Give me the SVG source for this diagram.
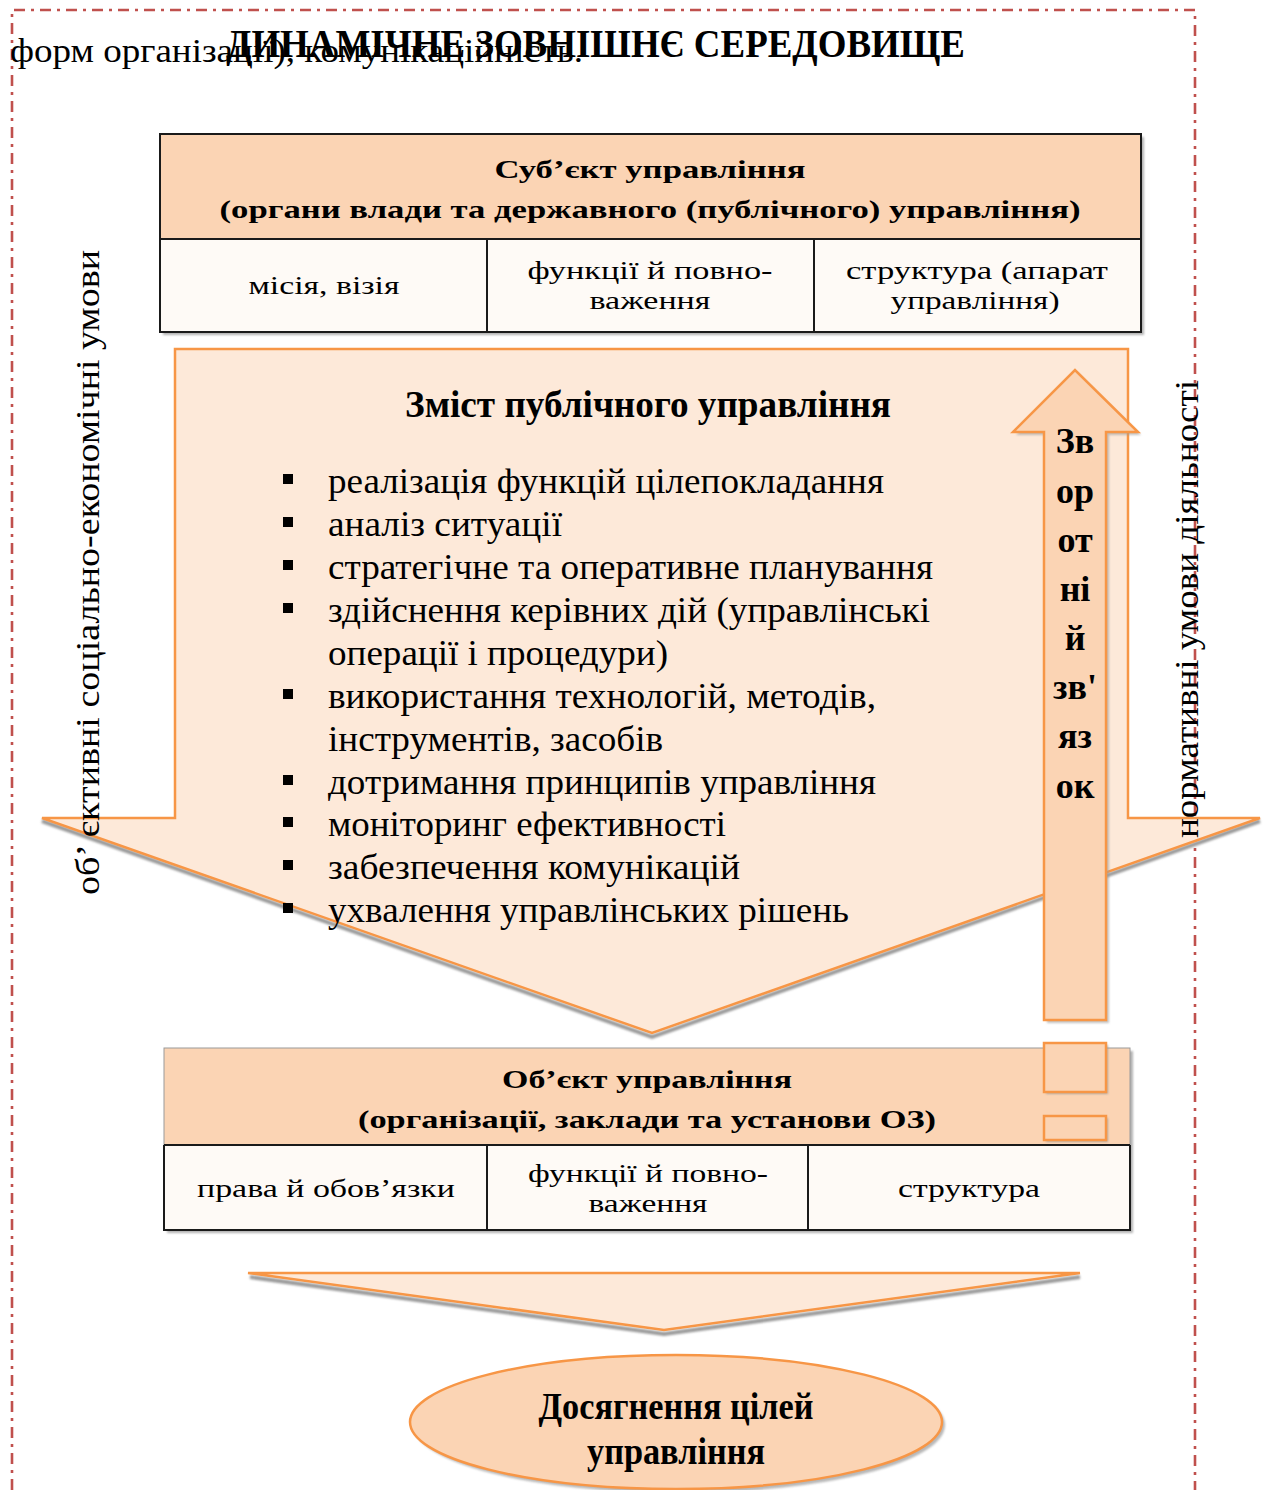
<svg xmlns="http://www.w3.org/2000/svg" width="1267" height="1490" viewBox="0 0 1267 1490">
<style>
text{font-family:"Liberation Serif","DejaVu Serif",serif;fill:#000}
.b{font-weight:bold}
.m{text-anchor:middle}
.hd{font-size:25px;font-weight:bold;text-anchor:middle}
.cl{font-size:25px;text-anchor:middle}
.li{font-size:35px}
.fb{font-size:36px;font-weight:bold;text-anchor:middle}
.vt{font-size:34px}
.border{fill:none;stroke:#c0504d;stroke-width:2.6;stroke-dasharray:11 6 3 6}
.peach{fill:#fbd4b4}
.cellbg{fill:#fefaf6}
.frame{fill:none;stroke:#1a1a1a;stroke-width:2}
.orange{stroke:#f79646;stroke-width:2.5}
.light{fill:#fde9d9}
.shadow{fill:#9a9a9a;opacity:0.75}
</style>
<defs>
<filter id="sh" x="-5%" y="-5%" width="110%" height="115%">
<feGaussianBlur stdDeviation="1"/>
</filter>
</defs>
<rect width="1267" height="1490" fill="#fff"/>
<path class="border" d="M12 1490 V10 H1195 V1490"/>

<g id="intro">
<text x="10" y="62" style="font-size:33px" textLength="573" lengthAdjust="spacingAndGlyphs">форм організації), комунікаційність.</text>
<text x="226" y="57" class="b" style="font-size:40px" textLength="739" lengthAdjust="spacingAndGlyphs">ДИНАМІЧНЕ ЗОВНІШНЄ СЕРЕДОВИЩЕ</text>
</g>

<g id="subject">
<rect x="163" y="137" width="981" height="198" class="shadow" filter="url(#sh)"/>
<rect x="160" y="134" width="981" height="105" class="peach"/>
<rect x="160" y="239" width="981" height="93" class="cellbg"/>
<rect x="160" y="134" width="981" height="198" class="frame"/>
<line x1="160" y1="239" x2="1141" y2="239" stroke="#1a1a1a" stroke-width="2"/>
<line x1="487" y1="239" x2="487" y2="332" stroke="#1a1a1a" stroke-width="2"/>
<line x1="814" y1="239" x2="814" y2="332" stroke="#1a1a1a" stroke-width="2"/>
<text x="650" y="178" class="hd" textLength="311" lengthAdjust="spacingAndGlyphs">Суб’єкт управління</text>
<text x="650" y="218" class="hd" textLength="861" lengthAdjust="spacingAndGlyphs">(органи влади та державного (публічного) управління)</text>
<text x="324" y="294" class="cl" textLength="151" lengthAdjust="spacingAndGlyphs">місія, візія</text>
<text x="650" y="279" class="cl" textLength="245" lengthAdjust="spacingAndGlyphs">функції й повно-</text>
<text x="650" y="309" class="cl" textLength="121" lengthAdjust="spacingAndGlyphs">важення</text>
<text x="977" y="279" class="cl" textLength="262" lengthAdjust="spacingAndGlyphs">структура (апарат</text>
<text x="975" y="309" class="cl" textLength="169" lengthAdjust="spacingAndGlyphs">управління)</text>
</g>

<g id="content">
<path d="M42 821 L652 1037 L1260 821" fill="none" stroke="#9a9a9a" stroke-width="4" filter="url(#sh)"/>
<path d="M175 349 H1128 V818 H1260 L652 1033 L42 818 H175 Z" class="light orange"/>
<text x="648" y="417" class="b m" style="font-size:38px" textLength="486" lengthAdjust="spacingAndGlyphs">Зміст публічного управління</text>
<g fill="#000">
<rect x="283" y="474" width="10" height="10"/>
<rect x="283" y="517" width="10" height="10"/>
<rect x="283" y="560" width="10" height="10"/>
<rect x="283" y="603" width="10" height="10"/>
<rect x="283" y="689" width="10" height="10"/>
<rect x="283" y="775" width="10" height="10"/>
<rect x="283" y="817" width="10" height="10"/>
<rect x="283" y="860" width="10" height="10"/>
<rect x="283" y="903" width="10" height="10"/>
</g>
<text x="328" y="493" class="li" textLength="556" lengthAdjust="spacingAndGlyphs">реалізація функцій цілепокладання</text>
<text x="328" y="536" class="li" textLength="234" lengthAdjust="spacingAndGlyphs">аналіз ситуації</text>
<text x="328" y="579" class="li" textLength="605" lengthAdjust="spacingAndGlyphs">стратегічне та оперативне планування</text>
<text x="328" y="622" class="li" textLength="602" lengthAdjust="spacingAndGlyphs">здійснення керівних дій (управлінські</text>
<text x="328" y="665" class="li" textLength="340" lengthAdjust="spacingAndGlyphs">операції і процедури)</text>
<text x="328" y="708" class="li" textLength="548" lengthAdjust="spacingAndGlyphs">використання технологій, методів,</text>
<text x="328" y="751" class="li" textLength="335" lengthAdjust="spacingAndGlyphs">інструментів, засобів</text>
<text x="328" y="794" class="li" textLength="548" lengthAdjust="spacingAndGlyphs">дотримання принципів управління</text>
<text x="328" y="836" class="li" textLength="398" lengthAdjust="spacingAndGlyphs">моніторинг ефективності</text>
<text x="328" y="879" class="li" textLength="412" lengthAdjust="spacingAndGlyphs">забезпечення комунікацій</text>
<text x="328" y="922" class="li" textLength="521" lengthAdjust="spacingAndGlyphs">ухвалення управлінських рішень</text>
</g>

<g id="feedback">
<path d="M1047 1023 V435 H1016 L1078 373 L1141 435 H1109 V1023 Z" fill="#9a9a9a" opacity="0.6" filter="url(#sh)"/>
<path d="M1044 1020 V432 H1013 L1075 370 L1138 432 H1106 V1020 Z" class="peach orange"/>
<text x="1075" y="453" class="fb">Зв</text>
<text x="1075" y="503" class="fb">ор</text>
<text x="1075" y="552" class="fb">от</text>
<text x="1075" y="601" class="fb">ні</text>
<text x="1075" y="650" class="fb">й</text>
<text x="1075" y="699" class="fb">зв'</text>
<text x="1075" y="748" class="fb">яз</text>
<text x="1075" y="798" class="fb">ок</text>
</g>

<g id="side-labels">
<text class="vt" transform="translate(99 895) rotate(-90)" textLength="645" lengthAdjust="spacingAndGlyphs">об’  єктивні соціально-економічні умови</text>
<text class="vt" transform="translate(1198 838) rotate(-90)" textLength="458" lengthAdjust="spacingAndGlyphs">нормативні умови діяльності</text>
</g>

<g id="object">
<rect x="167" y="1051" width="966" height="182" class="shadow" filter="url(#sh)"/>
<rect x="164" y="1048" width="966" height="97" class="peach"/>
<rect x="164" y="1145" width="966" height="85" class="cellbg"/>
<rect x="164" y="1048" width="966" height="182" fill="none" stroke="#9a9a9a" stroke-width="1"/>
<path d="M164 1145 V1230 H1130 V1145" class="frame"/>
<line x1="164" y1="1145" x2="1130" y2="1145" stroke="#1a1a1a" stroke-width="2"/>
<line x1="487" y1="1145" x2="487" y2="1230" stroke="#1a1a1a" stroke-width="2"/>
<line x1="808" y1="1145" x2="808" y2="1230" stroke="#1a1a1a" stroke-width="2"/>
<text x="647" y="1088" class="hd" textLength="290" lengthAdjust="spacingAndGlyphs">Об’єкт управління</text>
<text x="647" y="1128" class="hd" textLength="578" lengthAdjust="spacingAndGlyphs">(організації, заклади та   установи ОЗ)</text>
<text x="326" y="1197" class="cl" textLength="258" lengthAdjust="spacingAndGlyphs">права й обов’язки</text>
<text x="648" y="1182" class="cl" textLength="240" lengthAdjust="spacingAndGlyphs">функції й повно-</text>
<text x="648" y="1212" class="cl" textLength="119" lengthAdjust="spacingAndGlyphs">важення</text>
<text x="969" y="1197" class="cl" textLength="142" lengthAdjust="spacingAndGlyphs">структура</text>
</g>

<g id="feedback-tail">
<rect x="1046" y="1045" width="62" height="49" class="shadow" filter="url(#sh)"/>
<rect x="1044" y="1043" width="62" height="49" class="peach orange"/>
<rect x="1046" y="1118" width="62" height="24" class="shadow" filter="url(#sh)"/>
<rect x="1044" y="1116" width="62" height="24" class="peach orange"/>
</g>

<g id="result-arrow">
<path d="M250 1277 L664 1334 L1080 1277" fill="none" stroke="#9a9a9a" stroke-width="4" filter="url(#sh)"/>
<path d="M248 1273 H1080 L664 1330 Z" class="light orange"/>
</g>

<g id="goal">
<ellipse cx="679" cy="1425" rx="266" ry="68" fill="#9a9a9a" opacity="0.7" filter="url(#sh)"/>
<ellipse cx="676" cy="1422" rx="266" ry="67" class="peach orange"/>
<text x="676" y="1419" class="b m" style="font-size:38px" textLength="275" lengthAdjust="spacingAndGlyphs">Досягнення цілей</text>
<text x="676" y="1464" class="b m" style="font-size:38px" textLength="178" lengthAdjust="spacingAndGlyphs">управління</text>
</g>
</svg>
